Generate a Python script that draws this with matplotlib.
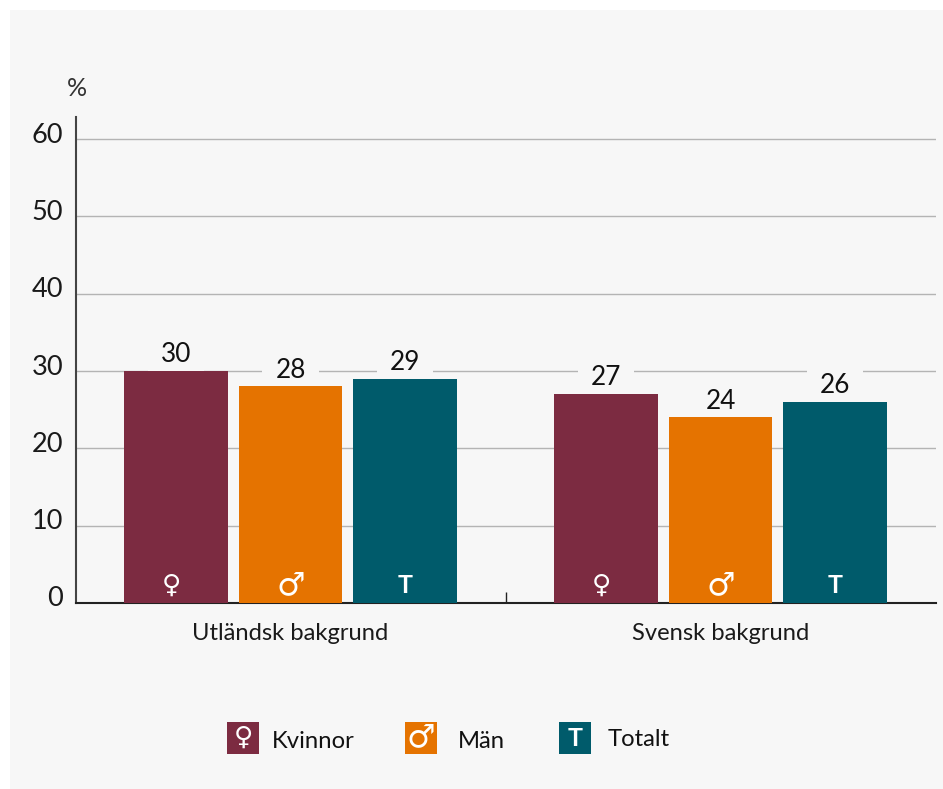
#!/usr/bin/env python3
# -*- coding: utf-8 -*-
import matplotlib
matplotlib.use('Agg')
import matplotlib.pyplot as plt
from matplotlib.patches import Rectangle
from matplotlib.transforms import ScaledTranslation

plt.rcParams['font.family'] = ['Lato', 'DejaVu Sans']

W, H = 943, 789

# data
groups = ['Utländsk bakgrund', 'Svensk bakgrund']
kvinnor = [30, 27]
man = [28, 24]
totalt = [29, 26]
series_names = ['Kvinnor', 'Män', 'Totalt']
series_symbols = ['♀', '♂', 'T']
y_ticks = [0, 10, 20, 30, 40, 50, 60]

COLORS = ['#7c2b41', '#e57300', '#005b6b']
PANEL = '#f7f7f7'
TEXT = '#1a1a1a'


def px_x(x):
    return x / W


def px_y(y):
    return 1 - y / H


def symbol(target, x, y, s, transform):
    # kon-symbolerna finns inte i Lato, T tas ur Lato
    if s == 'T':
        target.text(x, y, s, color='white', fontsize=18, family=['Lato'],
                    fontweight='bold', ha='center', va='center',
                    transform=transform, zorder=5)
    elif s == '♂':
        target.text(x, y, s, color='white', fontsize=23, family=['DejaVu Sans'],
                    fontweight='bold', ha='center', va='center',
                    transform=transform, zorder=5)
    else:
        target.text(x, y, s, color='white', fontsize=19, family=['DejaVu Sans'],
                    ha='center', va='center', transform=transform, zorder=5)


fig = plt.figure(figsize=(W / 100, H / 100), dpi=100, facecolor='white')
fig.add_artist(Rectangle((px_x(10), 0), 1 - px_x(10), px_y(10),
                         transform=fig.transFigure, color=PANEL, lw=0, zorder=-5))

ax = fig.add_axes([px_x(75.5), px_y(603), px_x(935 - 75), (603 - 117) / H])
ax.patch.set_alpha(0)
ax.set_xlim(-0.5, 1.5)
ax.set_ylim(0, (603 - 117) / 7.733)

for i, vals in enumerate([kvinnor, man, totalt]):
    for g, v in enumerate(vals):
        x = g + (i - 1) * 0.2663
        ax.bar(x, v, width=0.24, color=COLORS[i], zorder=3, lw=0)
        ax.text(x, v + 0.5, str(v), ha='center', va='bottom', fontsize=18.8,
                color='#111111', zorder=2,
                bbox=dict(boxstyle='square,pad=0.5', fc=PANEL, ec='none'))
        symbol(ax, x - 0.01 if i == 0 else x, 2.2, series_symbols[i], ax.transData)

ax.set_yticks(y_ticks)
ax.set_yticklabels([str(t) for t in y_ticks], fontsize=19.5, color=TEXT)
ax.tick_params(axis='y', length=0, pad=9)
shift = ScaledTranslation(0, 4 / 100, fig.dpi_scale_trans)
for lab in ax.get_yticklabels():
    lab.set_verticalalignment('center')
    lab.set_transform(lab.get_transform() + shift)
ax.yaxis.grid(True, color='#b4b4b4', lw=1, zorder=1)
ax.set_axisbelow(True)

ax.set_xticks([0.5])
ax.set_xticklabels([''])
ax.tick_params(axis='x', direction='in', length=8, width=1, color='#222222')
for g, name in enumerate(groups):
    ax.text(g, -4.0, name, ha='center', va='center', fontsize=17.1, color=TEXT)

for side in ['top', 'right']:
    ax.spines[side].set_visible(False)
ax.spines['left'].set_color('#444444')
ax.spines['left'].set_linewidth(1.5)
ax.spines['bottom'].set_color('#222222')
ax.spines['bottom'].set_linewidth(1.5)

fig.text(px_x(77), px_y(88), '%', fontsize=18, color='#333333', ha='center', va='center')

# teckenförklaring
box_x = [227, 405, 559]
label_x = [272, 458, 608]
label_y = [742, 742, 740]
for i, name in enumerate(series_names):
    fig.add_artist(Rectangle((px_x(box_x[i]), px_y(754)), 32 / W, 32 / H,
                             transform=fig.transFigure, color=COLORS[i], lw=0))
    symbol(fig, px_x(box_x[i] + 16), px_y(738), series_symbols[i], fig.transFigure)
    fig.text(px_x(label_x[i]), px_y(label_y[i]), name, fontsize=17.2,
             color='#111111', ha='left', va='center')

fig.savefig('out.png', dpi=100, facecolor='white')
